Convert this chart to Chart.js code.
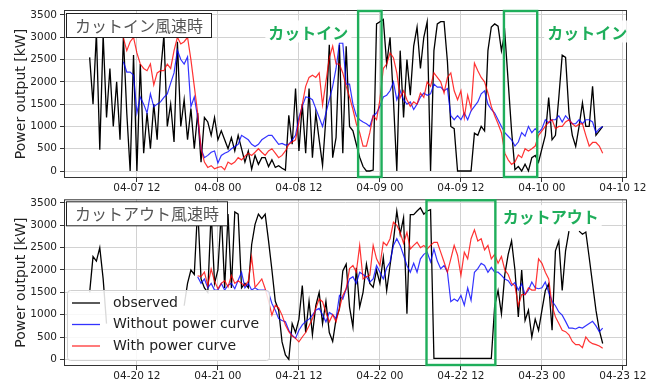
<!DOCTYPE html>
<html lang="ja">
<head>
<meta charset="UTF-8">
<title>Power output</title>
<script src="https://cdn.jsdelivr.net/npm/chart.js"></script>
<style>
  body { margin: 0; background: #fff; }
  #wrap { position: relative; width: 659px; height: 380px; }
  #topChart { position: absolute; left: 0; top: 0; }
  #bottomChart { position: absolute; left: 0; top: 190px; }
</style>
</head>
<body>
<div id="wrap">
  <canvas id="topChart" width="659" height="196"></canvas>
  <canvas id="bottomChart" width="659" height="190"></canvas>
</div>
<script>
// time axis in hours from 00:00 of the first day of each panel, 30 min steps
const stepHours = 0.5;
const obsStartHour = 5;
const topModelStartHour = 10;
const bottomModelStartHour = 21;

const tickHours = [12, 24, 36, 48, 60, 72, 84];
const topTickLabels = ['04-07 12', '04-08 00', '04-08 12', '04-09 00', '04-09 12', '04-10 00', '04-10 12'];
const bottomTickLabels = ['04-20 12', '04-21 00', '04-21 12', '04-22 00', '04-22 12', '04-23 00', '04-23 12'];
const yTicks = [0, 500, 1000, 1500, 2000, 2500, 3000, 3500];

// cut-in panel
const topObserved = [
  2550,1500,3100,480,3050,1200,2300,1000,2000,700,
  3000,1300,0,2600,0,2400,400,1300,500,1500,
  700,2200,3050,1000,1500,650,2900,1000,1600,700,
  1400,500,1300,200,1200,1100,800,1200,700,900,
  700,500,750,450,800,500,200,450,40,350,
  150,300,300,100,250,80,120,60,20,1250,
  600,1850,450,1500,400,1850,300,1300,700,130,
  1200,2830,300,750,2830,400,2800,1000,900,600,
  310,100,0,0,20,3300,3350,3400,2400,3000,
  1600,0,2700,1200,2500,1700,2800,3230,2300,3000,
  3350,0,2700,3300,3350,3350,2450,1000,950,0,
  0,0,0,0,850,800,1000,900,2700,3230,
  3300,3250,2700,3100,2000,900,30,100,0,150,
  0,300,350,200,500,800,1650,700,800,1650,
  2600,2550,1300,800,550,1000,1530,1000,1000,1900,
  800,900,1000
];
const topWithout = [
  2450,2220,2220,2150,1300,1660,1500,1300,1730,1440,
  1500,1550,1650,1730,1970,2200,2710,2500,2400,2560,
  1440,1660,1200,500,300,350,420,450,180,350,
  400,430,500,550,600,800,750,700,600,550,
  600,700,750,800,800,700,600,620,580,600,
  700,800,1200,1450,1660,1650,1600,1400,1200,1000,
  1300,1600,1900,2300,2870,2870,1950,1950,1500,1240,
  1150,1100,1060,1000,1240,1300,1450,1660,1700,1800,
  2000,1600,1800,1600,1500,1550,1380,1500,1660,1750,
  1700,1730,1950,1880,1880,1800,1850,1240,1150,1240,
  1150,1300,1150,1350,1450,1550,1730,1800,1500,1380,
  1300,1150,1000,860,780,700,560,650,860,780,
  1000,860,950,860,950,1150,1080,1150,1150,1240,
  1100,1240,1150,1060,1060,1150,1060,1150,1150,1100,
  860,950,1000
];
const topWith = [
  2980,2700,2900,3000,2650,2400,2300,2250,2400,1930,
  2200,2250,2250,2400,2300,2700,3000,2850,2900,3000,
  2500,1900,1300,500,200,80,120,50,80,100,
  30,200,150,200,300,250,330,400,350,420,
  500,420,350,450,500,400,300,350,450,600,
  650,700,1100,1500,1900,2100,2150,2100,2200,1480,
  2000,2540,2800,2400,2400,2200,1900,1660,1380,1060,
  860,560,560,860,1240,1150,1600,2300,2400,2650,
  2540,2200,1640,1800,1600,1450,1550,1500,1750,1650,
  2000,1900,2200,2100,2000,1750,2100,2200,1800,1600,
  1800,1200,1700,1400,2420,2250,2100,2000,1750,1450,
  1240,1060,860,400,250,150,200,360,300,500,
  450,500,560,800,900,1000,1100,1150,950,1000,
  1000,1100,1150,1060,1000,1050,1060,800,560,640,
  640,560,400
];

// cut-out panel
const bottomObserved = [
  1500,2300,2200,2500,1800,800,null,null,null,null,
  null,null,null,null,null,null,null,null,null,null,
  null,null,null,null,null,null,null,null,1200,1700,
  2000,1900,3400,1800,1600,1500,3300,1700,2000,3300,
  1600,3250,1600,3300,3250,1600,1700,1600,2570,3020,
  3250,3150,3250,2650,2000,1300,1100,390,100,0,
  800,600,900,1650,600,1300,550,1200,1500,800,
  1300,600,400,900,1130,1980,2130,1170,725,2050,
  1170,1500,2130,1700,1610,2000,1700,2280,1540,2100,
  2650,3320,2800,3170,1020,3240,3240,3320,3390,3250,
  3320,3350,20,20,20,20,20,20,20,20,
  20,20,20,20,20,20,20,20,20,20,
  1200,1540,1020,1900,2350,2650,2000,950,2000,870,
  1100,500,900,650,1100,1540,1690,650,2430,2650,
  1540,2430,2870,null,null,2870,2800,2850,2280,1690,
  1100,650,355
];
const bottomWithout = [
  1850,1700,1800,1600,1700,1550,1550,1700,
  1550,1660,1700,1580,1770,1950,1600,1700,1550,1600,
  1550,1550,1550,1500,1250,1100,910,870,840,650,
  540,470,650,770,850,900,990,1100,1140,1000,
  840,1050,1000,910,1430,1350,1580,1800,1850,1700,
  1950,1900,1850,1730,1800,2100,1950,1800,2050,2180,
  2550,2700,2550,2330,2100,1950,2150,1950,2250,2350,
  2400,2180,2470,2200,2030,2100,1950,1290,1350,1300,
  1430,1210,1600,1320,1950,2030,2150,2100,1950,2060,
  1950,1950,1880,1800,1760,1650,1720,1550,1690,1450,
  1550,1730,1600,1580,1600,1730,1500,1300,1200,1060,
  990,850,700,700,680,720,700,750,800,850,
  750,620,700
];
const bottomWith = [
  1870,1850,1950,1650,2020,1750,1580,1700,
  1760,1620,1880,1700,1760,1700,1650,1750,2290,1610,
  1700,1800,1580,1300,990,1210,1150,990,770,620,
  520,470,390,500,600,750,910,1140,1350,1290,
  1050,840,1000,840,1140,1430,1580,2030,2100,1950,
  2550,1800,1850,1880,2550,2250,2100,2620,2550,2700,
  3070,3000,2840,2600,2840,2470,2550,2620,2500,2550,
  2470,2550,2620,2620,2400,2180,1950,2250,2550,2330,
  1880,2400,2250,2700,2900,2650,2700,2450,2550,2250,
  2350,2150,2300,2000,1900,1700,1650,1200,1450,1450,
  1600,1550,1550,2250,2150,1950,1800,1200,950,800,
  650,620,550,400,330,330,260,500,400,350,
  330,300,250
];

const GREEN = '#1fae5b';
const AXIS_FONT = { family: 'DejaVu Sans', size: 10.5 };

function toPoints(values, start) {
  return values.map((v, i) => ({ x: start + i * stepHours, y: v }));
}

const overlayPlugin = {
  id: 'overlay',
  beforeDatasetsDraw(chart) {
    const { ctx, chartArea: a } = chart;
    ctx.save();
    ctx.strokeStyle = '#333';
    ctx.lineWidth = 1;
    ctx.strokeRect(a.left + 0.5, a.top + 0.5, a.width - 1, a.height - 1);
    ctx.restore();
  },
  afterDatasetsDraw(chart, args, opts) {
    const { ctx, chartArea: a, scales: { x, y } } = chart;
    ctx.save();

    // green rectangles
    ctx.strokeStyle = GREEN;
    ctx.lineWidth = 2.4;
    opts.boxes.forEach(b => {
      const x0 = x.getPixelForValue(b[0]);
      const x1 = x.getPixelForValue(b[1]);
      ctx.strokeRect(x0, a.top + 1, x1 - x0, a.height - 2);
    });

    // green labels with white background
    ctx.font = 'bold 16px "Noto Sans CJK JP"';
    ctx.textAlign = 'center';
    ctx.textBaseline = 'middle';
    opts.labels.forEach(l => {
      const px = x.getPixelForValue(l.x);
      const py = y.getPixelForValue(l.y);
      const w = ctx.measureText(l.text).width;
      ctx.fillStyle = 'rgba(255,255,255,0.9)';
      ctx.fillRect(px - w / 2 - 3, py - 11, w + 6, 22);
      ctx.fillStyle = GREEN;
      ctx.fillText(l.text, px, py + 1);
    });

    // title box
    ctx.font = '16px "Noto Sans CJK JP"';
    ctx.textAlign = 'left';
    const tw = ctx.measureText(opts.title).width;
    const bx = a.left + 2.5, by = a.top + opts.titleTop + 0.5;
    ctx.fillStyle = '#fff';
    ctx.fillRect(bx, by, tw + 17, 24);
    ctx.strokeStyle = '#222';
    ctx.lineWidth = 1;
    ctx.strokeRect(bx, by, tw + 17, 24);
    ctx.fillStyle = '#555';
    ctx.fillText(opts.title, bx + 8.5, by + 12.5);

    // legend
    if (opts.legend) {
      const lx = a.left + 3, ly = a.bottom - 76, lw = 202, lh = 70;
      ctx.beginPath();
      ctx.roundRect(lx + 0.5, ly + 0.5, lw, lh, 3);
      ctx.fillStyle = 'rgba(255,255,255,0.85)';
      ctx.fill();
      ctx.strokeStyle = '#d0d0d0';
      ctx.stroke();
      const items = [
        ['observed', '#000'],
        ['Without power curve', 'rgba(0,0,255,0.8)'],
        ['With power curve', 'rgba(255,0,0,0.8)']
      ];
      ctx.font = '14px "DejaVu Sans"';
      items.forEach((it, k) => {
        const ry = ly + 13 + k * 21.5;
        ctx.strokeStyle = it[1];
        ctx.lineWidth = 1.3;
        ctx.beginPath();
        ctx.moveTo(lx + 5, ry);
        ctx.lineTo(lx + 33, ry);
        ctx.stroke();
        ctx.fillStyle = '#222';
        ctx.fillText(it[0], lx + 46, ry);
      });
    }
    ctx.restore();
  }
};

function makeChart(id, obs, without, withPc, modelStart, tickLabels, xHeight, padTop, overlay) {
  return new Chart(document.getElementById(id), {
    type: 'line',
    data: {
      datasets: [
        { label: 'observed', data: toPoints(obs, obsStartHour), borderColor: '#000', borderWidth: 1.3, order: 3 },
        { label: 'Without power curve', data: toPoints(without, modelStart), borderColor: 'rgba(0,0,255,0.8)', borderWidth: 1.2, order: 2 },
        { label: 'With power curve', data: toPoints(withPc, modelStart), borderColor: 'rgba(255,0,0,0.8)', borderWidth: 1.2, order: 1 }
      ]
    },
    options: {
      responsive: false,
      animation: false,
      parsing: false,
      spanGaps: false,
      elements: { point: { radius: 0 }, line: { tension: 0 } },
      layout: { padding: { top: padTop, right: 32, left: 0, bottom: 0 } },
      plugins: {
        legend: { display: false },
        tooltip: { enabled: false },
        overlay: overlay
      },
      scales: {
        x: {
          type: 'linear',
          min: 1.2,
          max: 84.6,
          afterFit(scale) { scale.height = xHeight; },
          afterBuildTicks(scale) { scale.ticks = tickHours.map(v => ({ value: v })); },
          grid: { color: '#d2d2d2', tickLength: 4, tickColor: '#333' },
          border: { display: false },
          ticks: {
            font: AXIS_FONT, color: '#222', padding: 0, maxRotation: 0, autoSkip: false,
            callback: v => tickLabels[tickHours.indexOf(v)]
          }
        },
        y: {
          min: overlay.yMin,
          max: overlay.yMax,
          afterFit(scale) { scale.width = 64; },
          afterBuildTicks(scale) { scale.ticks = yTicks.map(v => ({ value: v })); },
          grid: { color: '#d2d2d2', tickLength: 4, tickColor: '#333' },
          border: { display: false },
          ticks: { font: AXIS_FONT, color: '#222', padding: 3, callback: v => String(v) },
          title: {
            display: true,
            text: 'Power output [kW]',
            font: { family: 'DejaVu Sans', size: 14 },
            color: '#222',
            padding: { top: 13, bottom: 0 }
          }
        }
      }
    },
    plugins: [overlayPlugin]
  });
}

makeChart('topChart', topObserved, topWithout, topWith, topModelStartHour, topTickLabels, 18, 10, {
  yMin: -157, yMax: 3612,
  title: 'カットイン風速時', titleTop: 3,
  boxes: [[44.77, 48.24], [66.37, 71.3]],
  labels: [{ text: 'カットイン', x: 37.4, y: 3130 }, { text: 'カットイン', x: 78.7, y: 3130 }],
  legend: false
});

makeChart('bottomChart', bottomObserved, bottomWithout, bottomWith, bottomModelStartHour, bottomTickLabels, 14, 8, {
  yMin: -149, yMax: 3582,
  title: 'カットアウト風速時', titleTop: 2,
  boxes: [[54.9, 65.1]],
  labels: [{ text: 'カットアウト', x: 73.3, y: 3205 }],
  legend: true
});
</script>
</body>
</html>
